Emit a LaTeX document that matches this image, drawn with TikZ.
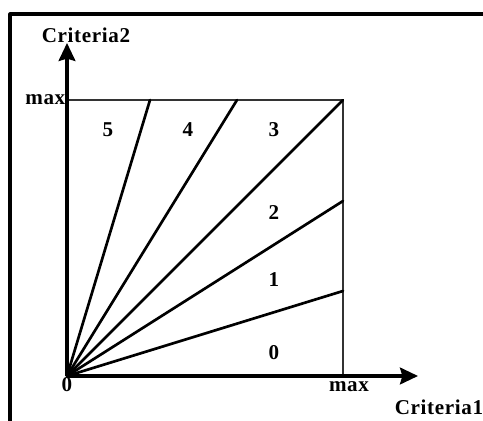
\documentclass[tikz,border=0pt]{standalone}
\usepackage{fontspec}
\setmainfont{Liberation Serif}[LetterSpace=3]
\usetikzlibrary{arrows.meta}

\tikzset{
  axis/.style={line width=2.2pt, -{Stealth[length=0.45cm, width=0.42cm, inset=0.06cm]}},
  ray/.style={line width=1.9pt, line cap=round},
  lbl/.style={inner sep=1pt}
}

\begin{document}
\begin{tikzpicture}[x=0.025cm, y=0.025cm, line join=round,
    font=\bfseries\fontsize{15}{17}\selectfont]
    \useasboundingbox (0,0) rectangle (483,421);

    % frame
    \draw[line width=2.2pt] (10,0) -- (10,407) -- (483,407);

    % points
    \coordinate (O) at (67,45);
    \coordinate (X) at (418,45);
    \coordinate (Y) at (67,378);
    \coordinate (M) at (343,321);  % corner (max,max)
    \coordinate (Mx) at (343,45);
    \coordinate (My) at (67,321);
    \coordinate (P0) at (343,130);
    \coordinate (P1) at (343,220);
    \coordinate (P3) at (237,321);
    \coordinate (P4) at (150,321);

    % square
    \draw[line width=1pt, black!80] (My) -- (M) -- (Mx);

    % rays
    \foreach \p in {P0,P1,M,P3,P4}
        \draw[ray] (O) -- (\p);

    % axes
    \draw[axis] (O) -- (X);
    \draw[axis] (O) -- (Y);

    % zones
    \node[lbl] (z0) at (274,68) {0};
    \node[lbl] (z1) at (274,141) {1};
    \node[lbl] (z2) at (274,208) {2};
    \node[lbl] (z3) at (274,291) {3};
    \node[lbl] (z4) at (188,291) {4};
    \node[lbl] (z5) at (108,291) {5};

    % axis labels
    \node[lbl, below] (o) at (O) {0};
    \node[lbl, left] (my) at (My) {max};
    \node[lbl] (mx) at (349,34) {max};
    \node[lbl] (c1) at (439,14) {Criteria1};
    \node[lbl] (c2) at (86,386) {Criteria2};
\end{tikzpicture}
\end{document}
